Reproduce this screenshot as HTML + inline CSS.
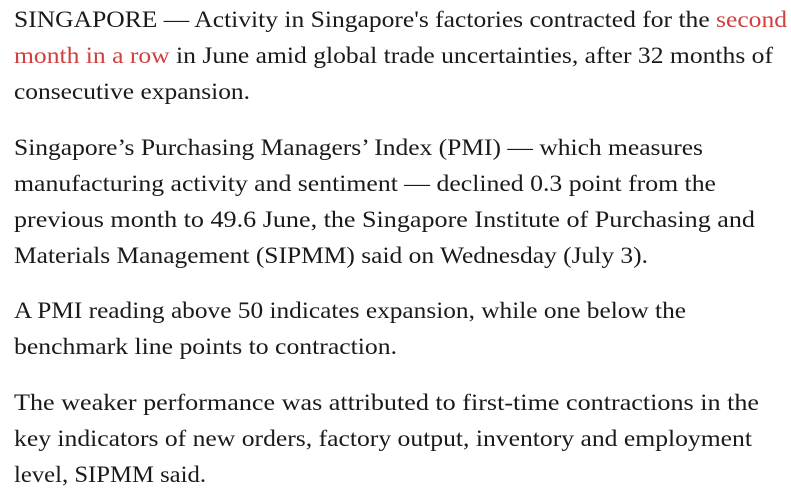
<!DOCTYPE html>
<html><head><meta charset="utf-8"><style>
html,body{margin:0;padding:0;background:#fff;width:791px;height:498px;overflow:hidden}
text{font-family:"Liberation Serif",serif;font-size:23px;fill:#1a1a1a}
.r{fill:#d23f3f}
</style></head><body>
<svg width="791" height="498" xmlns="http://www.w3.org/2000/svg">
<text x="14" y="27" textLength="773" lengthAdjust="spacingAndGlyphs">SINGAPORE — Activity in Singapore's factories contracted for the <tspan class="r">second</tspan></text>
<text x="14" y="63" textLength="759" lengthAdjust="spacingAndGlyphs"><tspan class="r">month in a row</tspan> in June amid global trade uncertainties, after 32 months of</text>
<text x="14" y="99" textLength="236" lengthAdjust="spacingAndGlyphs">consecutive expansion.</text>
<text x="14" y="155" textLength="689" lengthAdjust="spacingAndGlyphs">Singapore’s Purchasing Managers’ Index (PMI) — which measures</text>
<text x="14" y="191" textLength="702" lengthAdjust="spacingAndGlyphs">manufacturing activity and sentiment — declined 0.3 point from the</text>
<text x="14" y="227" textLength="741" lengthAdjust="spacingAndGlyphs">previous month to 49.6 June, the Singapore Institute of Purchasing and</text>
<text x="14" y="263" textLength="634" lengthAdjust="spacingAndGlyphs">Materials Management (SIPMM) said on Wednesday (July 3).</text>
<text x="14" y="318" textLength="672" lengthAdjust="spacingAndGlyphs">A PMI reading above 50 indicates expansion, while one below the</text>
<text x="14" y="354" textLength="383" lengthAdjust="spacingAndGlyphs">benchmark line points to contraction.</text>
<text x="14" y="410" textLength="745" lengthAdjust="spacingAndGlyphs">The weaker performance was attributed to first-time contractions in the</text>
<text x="14" y="446" textLength="738" lengthAdjust="spacingAndGlyphs">key indicators of new orders, factory output, inventory and employment</text>
<text x="14" y="482" textLength="192" lengthAdjust="spacingAndGlyphs">level, SIPMM said.</text>
</svg>
</body></html>
